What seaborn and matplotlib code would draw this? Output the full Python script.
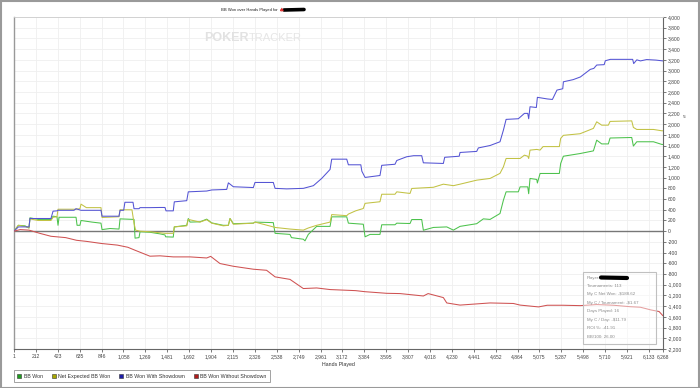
import numpy as np
import pandas as pd
import matplotlib
matplotlib.use("Agg")
import matplotlib.pyplot as plt
import seaborn as sns
from matplotlib.patches import Rectangle
from matplotlib.lines import Line2D
from matplotlib.ticker import FuncFormatter

# ---------------- data ----------------
series_names = ["BB Won", "Net Expected BB Won", "BB Won With Showdown", "BB Won Without Showdown"]

won_hands = [1, 43, 107, 146, 155, 233, 358, 378, 416, 426, 436, 600, 610, 638, 648, 754, 841, 851, 928,
             1015, 1025, 1160, 1170, 1208, 1218, 1314, 1411, 1459, 1465, 1539, 1549, 1669, 1684, 1701, 1797,
             1862, 1910, 2022, 2071, 2087, 2119, 2312, 2328, 2505, 2522, 2666, 2680, 2795, 2811, 2843, 2924,
             3053, 3069, 3214, 3230, 3374, 3391, 3439, 3535, 3552, 3680, 3697, 3825, 3842, 3938, 3954, 4051,
             4180, 4244, 4308, 4469, 4533, 4598, 4694, 4727, 4753, 4871, 4888, 4962, 4971, 4984, 5049, 5055,
             5081, 5267, 5280, 5306, 5467, 5596, 5628, 5676, 5740, 5757, 5966, 5982, 6015, 6176, 6257, 6268]
won_vals = [0, 110, 100, 60, 250, 220, 220, 280, 270, 110, 260, 260, 110, 110, 200, 170, 150, 30, 50,
            40, 230, 220, -130, -120, -10, -20, -50, -70, -105, -110, 80, 110, 237, 170, 175,
            225, 155, 110, 110, 237, 140, 150, 170, 160, -40, -60, -120, -150, -180, -60, 90,
            90, 268, 268, 150, 130, -105, -60, -60, 120, 120, 150, 143, 218, 218, 18, 70,
            80, 20, 90, 140, 230, 220, 330, 580, 735, 735, 828, 828, 700, 985, 966, 900,
            1078, 1078, 1265, 1400, 1450, 1500, 1700, 1630, 1630, 1740, 1750, 1590, 1670, 1670, 1620, 1620]

ev_hands = [1, 43, 107, 146, 155, 233, 358, 378, 416, 426, 600, 638, 648, 700, 841, 851, 1015, 1025,
            1140, 1160, 1175, 1218, 1314, 1411, 1459, 1539, 1549, 1669, 1684, 1797, 1862, 1910, 2022, 2071,
            2087, 2119, 2312, 2328, 2505, 2522, 2666, 2795, 2843, 2924, 3053, 3069, 3214, 3230, 3300, 3374,
            3391, 3535, 3552, 3680, 3697, 3825, 3842, 4051, 4147, 4244, 4308, 4469, 4598, 4694, 4727, 4753,
            4888, 4930, 4962, 4971, 4984, 5049, 5081, 5110, 5267, 5280, 5306, 5467, 5596, 5628, 5676, 5740,
            5757, 5966, 5982, 6015, 6176, 6257, 6268]
ev_vals = [0, 110, 90, 60, 230, 200, 200, 260, 270, 410, 410, 420, 505, 440, 440, 256, 270, 400,
           400, 150, 20, 0, -10, -30, -40, -40, 80, 100, 220, 170, 215, 150, 100, 110,
           237, 130, 150, 170, 80, 70, 40, 20, 60, 110, 170, 310, 290, 320, 380, 424,
           520, 550, 690, 690, 735, 705, 798, 820, 878, 850, 878, 953, 985, 1080, 1202, 1358,
           1358, 1420, 1400, 1358, 1514, 1527, 1515, 1580, 1580, 1733, 1790, 1820, 1920, 2043, 1980, 1980,
           2050, 2060, 1938, 1900, 1900, 1875, 1875]

sd_hands = [1, 43, 146, 155, 358, 378, 416, 426, 580, 600, 648, 841, 851, 1015, 1025, 1060, 1072, 1150,
            1160, 1208, 1218, 1314, 1411, 1459, 1469, 1539, 1549, 1669, 1684, 1862, 1910, 2055, 2071, 2119,
            2312, 2328, 2505, 2522, 2634, 2795, 2892, 2972, 3053, 3069, 3214, 3230, 3350, 3360, 3391, 3535,
            3552, 3680, 3697, 3793, 3860, 3938, 3954, 4147, 4160, 4300, 4308, 4469, 4485, 4598, 4694, 4727,
            4753, 4871, 4930, 4962, 4971, 4984, 5045, 5055, 5150, 5200, 5244, 5300, 5306, 5400, 5470, 5566,
            5600, 5628, 5700, 5711, 5760, 5975, 5985, 6015, 6050, 6110, 6200, 6268]
sd_vals = [0, 80, 80, 237, 237, 374, 380, 390, 390, 420, 390, 390, 280, 280, 390, 390, 540, 540,
           420, 420, 440, 440, 443, 443, 380, 380, 548, 570, 735, 750, 770, 780, 903, 830,
           815, 910, 910, 800, 790, 800, 850, 985, 1153, 1345, 1345, 1240, 1240, 1120, 1004, 1040,
           1230, 1250, 1320, 1390, 1410, 1410, 1277, 1265, 1380, 1400, 1470, 1490, 1555, 1600, 1670, 1888,
           2088, 2100, 2200, 2200, 2100, 2324, 2310, 2500, 2470, 2460, 2635, 2660, 2790, 2830, 2880, 3022,
           3040, 3103, 3110, 3183, 3209, 3209, 3130, 3200, 3180, 3205, 3195, 3180]

nsd_hands = [1, 60, 146, 250, 358, 500, 605, 700, 847, 1000, 1100, 1169, 1314, 1411, 1539, 1701, 1862,
             1900, 1990, 2119, 2312, 2440, 2522, 2666, 2795, 2924, 3053, 3300, 3391, 3600, 3729, 3954, 4000,
             4147, 4180, 4308, 4598, 4824, 4888, 5066, 5150, 5300, 5470, 5628, 5790, 5950, 6050, 6150, 6230,
             6268]
nsd_vals = [0, 30, 20, -40, -95, -120, -170, -190, -230, -260, -300, -355, -467, -460, -480, -480, -500,
            -470, -604, -655, -710, -730, -853, -900, -1071, -1060, -1090, -1110, -1130, -1160, -1165, -1210, -1165,
            -1240, -1340, -1380, -1340, -1350, -1380, -1414, -1383, -1383, -1390, -1370, -1383, -1410, -1420, -1470, -1500,
            -1580]

x_tick_values = [1, 212, 423, 635, 846, 1058, 1269, 1481, 1692, 1904, 2115, 2326, 2538, 2749, 2961, 3172,
                 3384, 3595, 3807, 4018, 4230, 4441, 4652, 4864, 5075, 5287, 5498, 5710, 5921, 6133, 6268]

stats_lines = ["Player:", "Tournaments: 113", "My C Net Won: -$188.62", "My C / Tournament: -$1.67",
               "Days Played: 16", "My C / Day: -$11.79", "ROI %: -41.91", "BB/100: 26.00"]

line_colors = ["#4cc24c", "#c2c244", "#5454d4", "#cf5252"]
legend_colors = ["#1e9e1e", "#a8a800", "#1c1ca8", "#b01c1c"]

# ---------------- build table ----------------
frames = []
for name, h, v in zip(series_names, [won_hands, ev_hands, sd_hands, nsd_hands],
                      [won_vals, ev_vals, sd_vals, nsd_vals]):
    frames.append(pd.DataFrame({"Hands": h, "BB": v, "Series": name}))
df = pd.concat(frames, ignore_index=True)

# ---------------- plot ----------------
sns.set_theme(style="white")
plt.rcParams["font.family"] = ["Liberation Sans", "DejaVu Sans"]

W, H = 700, 388
fig = plt.figure(figsize=(7, 3.88), dpi=100)
L, R, T, B = 14, 663, 17, 349
ax = fig.add_axes([L / W, 1 - B / H, (R - L) / W, (B - T) / H])

ax.set_xlim(1, 6268)
ax.set_ylim(-2200, 4000)
ax.set_yticks(np.arange(-2200, 4001, 200))
ax.set_xticks(x_tick_values)
ax.set_xticklabels([f"{v:,}" for v in x_tick_values])
ax.yaxis.set_major_formatter(FuncFormatter(lambda v, p: f"{int(v):,}"))
ax.yaxis.tick_right()
ax.grid(True, color="#efefef", lw=0.6)
ax.set_axisbelow(True)
ax.axhline(0, color="#777777", lw=1.0, zorder=1)

sns.lineplot(data=df, x="Hands", y="BB", hue="Series", hue_order=series_names,
             palette=dict(zip(series_names, line_colors)), estimator=None, sort=False,
             lw=0.75, legend=False, ax=ax, zorder=3)

ax.set_ylabel("")
ax.set_xlabel("Hands Played", fontsize=3.8, color="#333333", labelpad=2)
ax.tick_params(axis="both", labelsize=3.6, colors="#444444", length=2, width=0.5, pad=1.5,
               bottom=True, right=True, left=False, top=False)
for side, col, lw in [("left", "#999999", 1.0), ("right", "#666666", 0.8),
                      ("bottom", "#666666", 0.8), ("top", "#cccccc", 0.6)]:
    ax.spines[side].set_color(col)
    ax.spines[side].set_linewidth(lw)
    ax.spines[side].set_visible(True)

# watermark
fig.text(204 / W, 1 - 38 / H, "POKER", fontsize=9, fontweight="bold", color="#e2e2e2",
         ha="left", va="center")
fig.text(249 / W, 1 - 38 / H, "TRACKER", fontsize=8, color="#e6e6e6",
         ha="left", va="center")

# title
fig.text(278 / W, 1 - 10 / H, "BB Won over Hands Played for", fontsize=3.0, color="#222222",
         ha="right", va="center")
fig.text(281 / W, 1 - 10 / H, "\u2660", fontsize=4.5, color="#e03030", ha="center", va="center",
         family=["DejaVu Sans"])
fig.add_artist(Line2D([284 / W, 304 / W], [1 - 10 / H, 1 - 9.5 / H], transform=fig.transFigure,
                      color="black", lw=2.6, solid_capstyle="round"))

# stats box
fig.add_artist(Rectangle((583 / W, 1 - 344 / H), (656 - 583) / W, (344 - 272) / H,
                         transform=fig.transFigure, facecolor=(1, 1, 1, 0.45),
                         edgecolor="#c0c0c0", lw=0.8, zorder=5))
for i, s in enumerate(stats_lines):
    fig.text(587 / W, 1 - (277.5 + i * 8.45) / H, s, fontsize=3.2, color="#8a8a8a",
             ha="left", va="center", zorder=6)
fig.add_artist(Line2D([601 / W, 627 / W], [1 - 277.5 / H, 1 - 278 / H], transform=fig.transFigure,
                      color="black", lw=3, zorder=7))

# small axis mark on the right
fig.text(684 / W, 1 - 117 / H, "\u2248", fontsize=3.5, color="#333333", ha="center", va="center")

# legend
handles = [Line2D([], [], marker="s", ls="none", markersize=3, markerfacecolor=c,
                  markeredgecolor="#333333", markeredgewidth=0.4) for c in legend_colors]
leg = fig.legend(handles, series_names, loc="lower left", bbox_to_anchor=(11 / W, 3 / H),
                 ncol=4, fontsize=3.8, frameon=True, fancybox=False, edgecolor="#777777",
                 handlelength=0.8, handletextpad=0.4, columnspacing=1.7, borderpad=0.7)
leg.get_frame().set_linewidth(0.6)
for t in leg.get_texts():
    t.set_color("#333333")

# outer frame
fig.add_artist(Rectangle((0.001, 0.001), 0.998, 0.997, transform=fig.transFigure, fill=False,
                         edgecolor="#9a9a9a", lw=1.5))

fig.savefig("out.png", dpi=100)
